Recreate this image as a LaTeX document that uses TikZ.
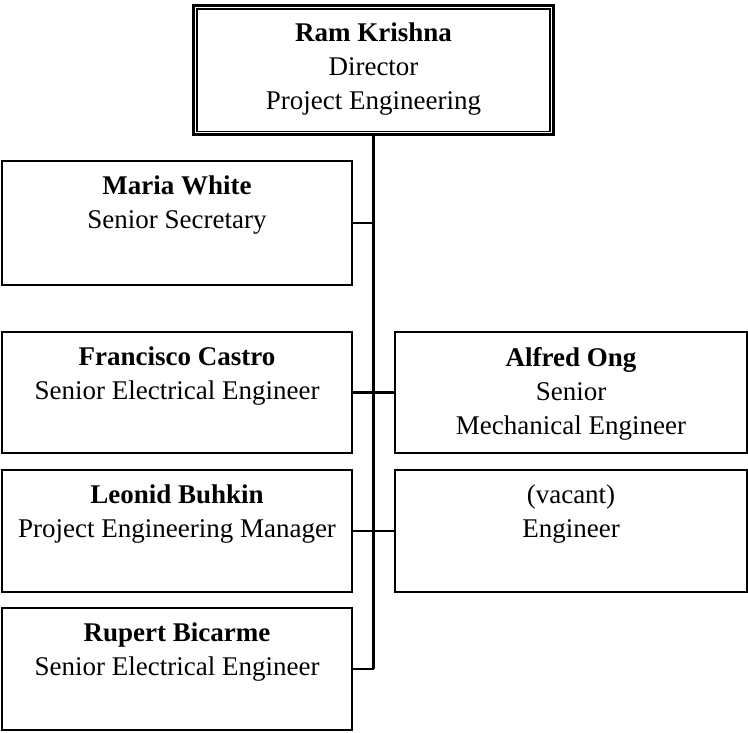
\documentclass[tikz,border=0pt]{standalone}
\usepackage{fontspec}
\setmainfont{Liberation Serif}
\usetikzlibrary{positioning}

\begin{document}
\begin{tikzpicture}[x=1pt,y=-1pt,
  box/.style={draw,line width=2.2pt,minimum width=350pt,minimum height=121pt,inner sep=0pt},
  txt/.style={align=center,inner sep=0pt,font=\fontsize{27}{34}\selectfont},
  link/.style={line width=2.2pt}]
\useasboundingbox (0,0) rectangle (748,733);

\node [draw,line width=3pt,minimum width=360pt,minimum height=129.5pt] (director) at (373.5,70.25) {};
\draw [line width=1.2pt] ([shift={(5pt,-5pt)}]director.north west) rectangle ([shift={(-5pt,5pt)}]director.south east);
\node [txt,below=19pt of director.north] (directortxt) {\textbf{Ram Krishna}\\Director\\Project Engineering};

\node [box,minimum height=124pt] (maria) at (177,223) {};
\node [txt,below=16pt of maria.north] (mariatxt) {\textbf{Maria White}\\Senior Secretary};

\node [box] (castro) at (177,392.5) {};
\node [txt,below=16pt of castro.north] (castrotxt) {\textbf{Francisco Castro}\\Senior Electrical Engineer};
\node [box,minimum width=352pt] (ong) at (571,392.5) {};
\node [txt,below=16pt of ong.north] (ongtxt) {\textbf{Alfred Ong}\\Senior\\Mechanical Engineer};

\node [box,minimum height=122pt] (buhkin) at (177,531) {};
\node [txt,below=16pt of buhkin.north] (buhkintxt) {\textbf{Leonid Buhkin}\\Project Engineering Manager};
\node [box,minimum width=352pt,minimum height=122pt] (vacant) at (571,531) {};
\node [txt,below=16pt of vacant.north] (vacanttxt) {(vacant)\\Engineer};

\node [box,minimum height=122pt] (bicarme) at (177,669) {};
\node [txt,below=16pt of bicarme.north] (bicarmetxt) {\textbf{Rupert Bicarme}\\Senior Electrical Engineer};

\draw [link] (director.south) -- (director.south |- bicarme.east);
\draw [link] (maria.east) -- (maria.east -| director.south);
\draw [link] (castro.east) -- (ong.west);
\draw [link] (buhkin.east) -- (vacant.west);
\draw [link] (bicarme.east) -- (bicarme.east -| director.south);

\end{tikzpicture}
\end{document}
